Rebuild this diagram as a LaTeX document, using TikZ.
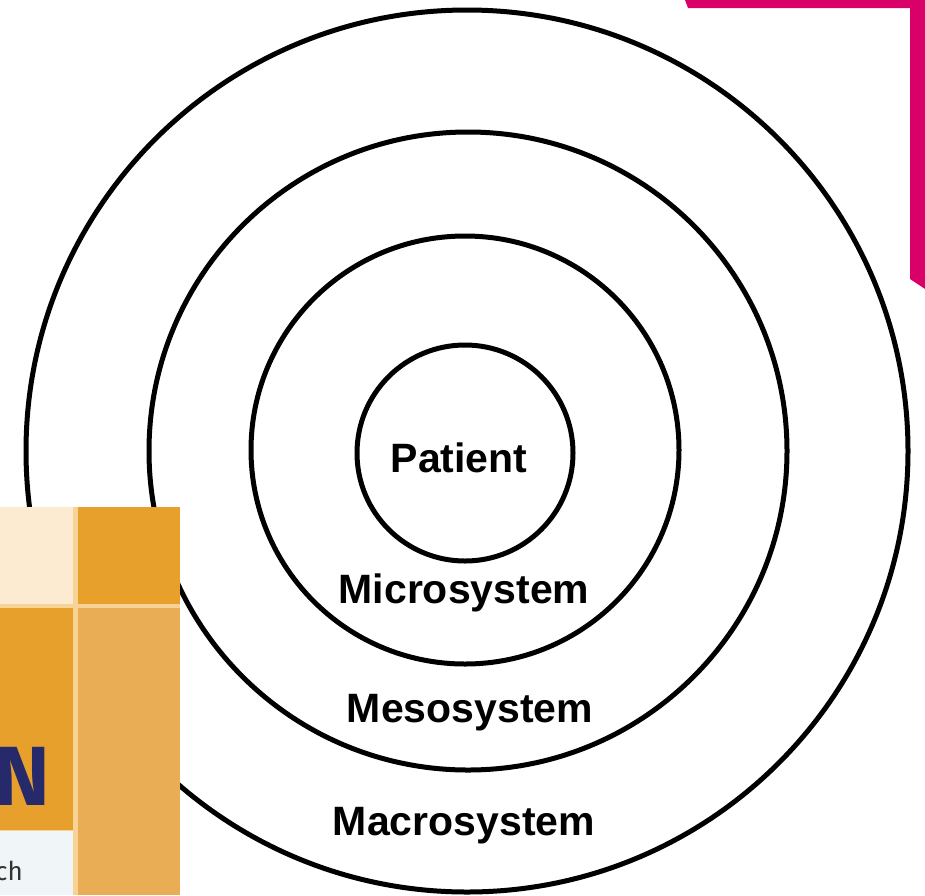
\documentclass[tikz,border=0pt]{standalone}
\usepackage{fontspec}
\setmainfont{Liberation Sans}
\newfontfamily\coverfont{Fira Sans}
\newcommand\ringwidth{5pt}
\newcommand\labelsize{\fontsize{41}{41}\selectfont\bfseries}
\definecolor{pinkbar}{RGB}{218,0,106}
\definecolor{cream}{RGB}{252,235,208}
\definecolor{coverorange}{RGB}{232,160,44}
\definecolor{coverpale}{RGB}{233,174,85}
\definecolor{coverline}{RGB}{247,212,150}
\definecolor{coverwhite}{RGB}{240,245,248}
\definecolor{navy}{RGB}{38,42,107}

\begin{document}
\begin{tikzpicture}[x=1pt,y=-1pt,
    ring/.style={draw,circle,line width=\ringwidth,inner sep=0pt},
    layer/.style={anchor=base,font=\labelsize}]
    \useasboundingbox (0,0) rectangle (925,895);

    \node[ring,minimum size=882pt] (macro) at (467,451) {};
    \node[ring,minimum size=638pt] (meso) at (468,451) {};
    \node[ring,minimum size=428pt] (micro) at (465,450) {};
    \node[ring,minimum size=216pt] (patient) at (465,453) {};

    \node[layer] (patientlabel) at (459,472) {Patient};
    \node[layer] (microlabel) at (464,603) {Microsystem};
    \node[layer] (mesolabel) at (470,722) {Mesosystem};
    \node[layer] (macrolabel) at (464,835) {Macrosystem};

    % corner bar
    \fill[pinkbar] (685,0) -- (925,0) -- (925,289) -- (910,279) -- (910,8) -- (688,8) -- cycle;

    % cover fragment
    \fill[coverline] (0,507) rectangle (180,895);
    \fill[cream] (0,507) rectangle (73,604);
    \fill[coverorange] (78,507) rectangle (180,604);
    \fill[coverorange] (0,608) rectangle (73,830);
    \fill[coverwhite] (0,831) rectangle (73,895);
    \fill[coverpale] (78,608) rectangle (180,895);
    \node[anchor=base east,inner sep=0pt,text=navy,font=\coverfont\bfseries\fontsize{84}{84}\selectfont] (covertitle) at (50,805) {N};
    \node[anchor=base east,inner sep=0pt,text=black!80,font=\coverfont\fontsize{26}{26}\selectfont] (coversub) at (23,880) {ch};
\end{tikzpicture}
\end{document}
